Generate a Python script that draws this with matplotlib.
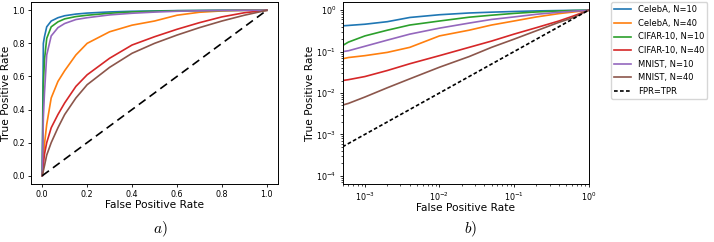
import numpy as np
import matplotlib
matplotlib.use('Agg')
import matplotlib.pyplot as plt

plt.rcParams['mathtext.fontset'] = 'cm'

labels = ['CelebA, N=10', 'CelebA, N=40', 'CIFAR-10, N=10',
          'CIFAR-10, N=40', 'MNIST, N=10', 'MNIST, N=40']
colors = ['#1f77b4', '#ff7f0e', '#2ca02c', '#d62728', '#9467bd', '#8c564b']

# linear panel (a)
fpr_lin = [0, 0.005, 0.01, 0.02, 0.04, 0.07, 0.1, 0.15, 0.2, 0.3, 0.4, 0.5, 0.6, 0.7, 0.8, 0.9, 1.0]
tpr_celeba_10 = [0, 0.80, 0.84, 0.90, 0.935, 0.955, 0.967, 0.977, 0.983, 0.99, 0.994, 0.996, 0.998, 0.999, 1.0, 1.0, 1.0]
tpr_celeba_40 = [0, 0.12, 0.19, 0.31, 0.47, 0.57, 0.635, 0.73, 0.80, 0.87, 0.91, 0.935, 0.97, 0.988, 0.996, 1.0, 1.0]
tpr_cifar_10 = [0, 0.55, 0.70, 0.83, 0.90, 0.93, 0.948, 0.962, 0.97, 0.982, 0.99, 0.994, 0.997, 0.998, 0.999, 1.0, 1.0]
tpr_cifar_40 = [0, 0.07, 0.13, 0.20, 0.29, 0.37, 0.44, 0.54, 0.61, 0.71, 0.79, 0.84, 0.885, 0.925, 0.96, 0.985, 1.0]
tpr_mnist_10 = [0, 0.35, 0.50, 0.73, 0.845, 0.895, 0.92, 0.944, 0.955, 0.972, 0.982, 0.989, 0.994, 0.997, 0.999, 1.0, 1.0]
tpr_mnist_40 = [0, 0.03, 0.06, 0.125, 0.20, 0.29, 0.37, 0.47, 0.55, 0.655, 0.74, 0.80, 0.85, 0.895, 0.935, 0.97, 1.0]

# log panel (b)
fpr_log = [5e-4, 6e-4, 1e-3, 2e-3, 4e-3, 1e-2, 2.5e-2, 5e-2, 0.1, 0.2, 0.4, 0.63, 1.0]
log_celeba_10 = [0.42, 0.43, 0.46, 0.53, 0.67, 0.78, 0.86, 0.90, 0.935, 0.965, 0.985, 0.995, 1.0]
log_celeba_40 = [0.067, 0.072, 0.080, 0.096, 0.127, 0.24, 0.33, 0.44, 0.55, 0.69, 0.83, 0.91, 1.0]
log_cifar_10 = [0.14, 0.17, 0.24, 0.33, 0.44, 0.55, 0.68, 0.76, 0.84, 0.91, 0.96, 0.985, 1.0]
log_cifar_40 = [0.020, 0.021, 0.025, 0.035, 0.051, 0.080, 0.127, 0.18, 0.265, 0.38, 0.55, 0.73, 1.0]
log_mnist_10 = [0.10, 0.105, 0.135, 0.19, 0.265, 0.37, 0.49, 0.60, 0.69, 0.80, 0.895, 0.95, 1.0]
log_mnist_40 = [0.0051, 0.0056, 0.008, 0.0134, 0.022, 0.042, 0.076, 0.127, 0.20, 0.32, 0.51, 0.67, 1.0]

tpr_lin = [tpr_celeba_10, tpr_celeba_40, tpr_cifar_10, tpr_cifar_40, tpr_mnist_10, tpr_mnist_40]
tpr_log = [log_celeba_10, log_celeba_40, log_cifar_10, log_cifar_40, log_mnist_10, log_mnist_40]

fig = plt.figure(figsize=(7.14, 2.42), dpi=100)
ax1 = fig.add_axes([31 / 714, 1 - 184 / 242, 247 / 714, 182 / 242])
ax2 = fig.add_axes([342.5 / 714, 1 - 184 / 242, 246 / 714, 182 / 242])

for y, c, lab in zip(tpr_lin, colors, labels):
    ax1.plot(fpr_lin, y, color=c, lw=1.2, label=lab)
ax1.plot([0, 1], [0, 1], 'k--', lw=1.2, dashes=(5, 3))

for y, c, lab in zip(tpr_log, colors, labels):
    ax2.plot(fpr_log, y, color=c, lw=1.2, label=lab)
ax2.plot([5e-4, 1], [5e-4, 1], 'k--', lw=1.2, dashes=(2.2, 1.4), label='FPR=TPR')
ax2.set_xscale('log')
ax2.set_yscale('log')
ax2.set_xlim(5e-4, 1)
ax2.set_ylim(10 ** -4.2, 10 ** 0.2)

for ax in (ax1, ax2):
    ax.set_xlabel('False Positive Rate', fontsize=7.7, labelpad=0.5)
    ax.set_ylabel('True Positive Rate', fontsize=7.7, labelpad=0.5)
    ax.tick_params(labelsize=5.8, length=2.5, width=0.6, pad=2)
    ax.tick_params(which='minor', length=1.5, width=0.5)
    for s in ax.spines.values():
        s.set_linewidth(0.7)

ax2.legend(loc='upper left', bbox_to_anchor=(611 / 714, 1 - 2 / 242),
           bbox_transform=fig.transFigure, fontsize=6, borderaxespad=0,
           handlelength=2.0, labelspacing=0.55)

fig.text(160 / 714, 13 / 242, '$a)$', fontsize=11, ha='center', va='center')
fig.text(471 / 714, 13 / 242, '$b)$', fontsize=11, ha='center', va='center')

fig.savefig('out.png', dpi=100)
